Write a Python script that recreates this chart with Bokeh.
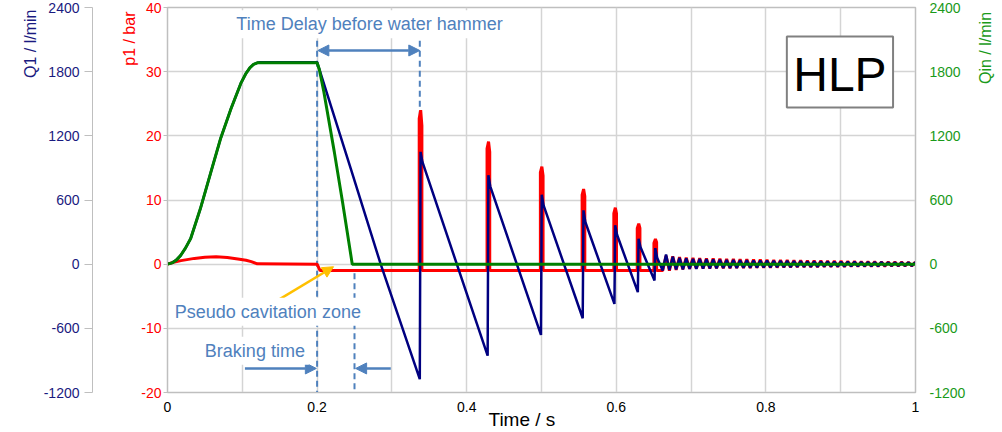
import math
from bokeh.plotting import figure
from bokeh.layouts import row
from bokeh.models import (Range1d, LinearAxis, FixedTicker, Label, Arrow,
                          NormalHead, Title)
from bokeh.core.properties import value
from bokeh.embed import file_html
from bokeh.resources import INLINE

FONT = "Liberation Sans"

# ---------------- data ----------------
# start-up ramp, shared by Q1 and Qin (l/min)
ramp_t = [0, 0.006, 0.012, 0.0174, 0.024, 0.031, 0.044, 0.058, 0.071, 0.085, 0.098,
          0.105, 0.11, 0.115, 0.12]
ramp_q = [0, 12, 40, 80, 150, 240, 520, 860, 1175, 1456, 1690, 1785, 1835, 1868, 1883]
brake_start = 0.2
brake_end = 0.25
q1_plateau = 1889
qin_brake_t = [0.2, 0.203, 0.209, 0.223, 0.234, 0.247]
qin_brake_q = [1883, 1820, 1612, 1050, 581, 0]
q1_brake_t = [0.2, 0.245, 0.285]
q1_brake_q = [q1_plateau, 893, 0]

# pressure p1 (bar)
p1_hump_t = [0, 0.008, 0.018, 0.036, 0.05, 0.065, 0.08, 0.094, 0.105, 0.112, 0.12]
p1_hump_p = [0, 0.3, 0.55, 0.9, 1.08, 1.15, 1.05, 0.8, 0.6, 0.4, 0.05]
p1_cav = -1.0
p1_drop_t = [0.2, 0.204]

# water hammer events
spike_t = [0.3373, 0.428, 0.4993, 0.5551, 0.5975, 0.6288, 0.6511]
p1_spike_rise = [22.7, 18.0, 14.3, 10.8, 7.9, 5.6, 3.3]
p1_spike_peak = [24.0, 19.1, 15.2, 11.7, 8.8, 6.3, 3.9]
p1_spike_fall = [21.6, 17.5, 13.8, 10.6, 7.9, 5.6, 3.4]
q1_trough = [-1075, -856, -662, -506, -372, -262, -153]
q1_peak = [1050, 831, 650, 503, 363, 237, 150]
q1_shoulder = [956, 728, 550, 394, 275, 160, 60]

# decaying oscillation after the last hammer
osc_t0 = 0.662
osc_period = 0.009
p1_osc_hi = [1.3, 1.2, 1.1, 1.0, 0.95, 0.92, 0.9, 0.88, 0.85, 0.82, 0.8, 0.78, 0.75,
             0.72, 0.7, 0.67, 0.65, 0.63, 0.61, 0.6, 0.58, 0.56, 0.54, 0.52, 0.5,
             0.49, 0.47, 0.45, 0.44, 0.42, 0.4, 0.39, 0.37, 0.36, 0.34, 0.33, 0.32, 0.3]
p1_osc_lo = [-1.0, -1.0, -0.9, -0.8, -0.72, -0.7, -0.68, -0.66, -0.65, -0.63, -0.62,
             -0.6, -0.59, -0.58, -0.56, -0.55, -0.53, -0.52, -0.5, -0.49, -0.47, -0.46,
             -0.44, -0.43, -0.42, -0.4, -0.39, -0.38, -0.37, -0.36, -0.35, -0.34,
             -0.33, -0.32, -0.31, -0.3, -0.3, -0.29]
q1_osc_hi = [90, 70, 60, 55, 50, 48, 46, 44, 42, 40, 38, 37, 36, 35, 34, 33, 32, 31,
             30, 29, 28, 27, 26, 25, 25, 24, 23, 22, 22, 21, 20, 20, 19, 18, 18, 17, 16, 16]
q1_osc_lo = [-60, -55, -50, -48, -45, -43, -42, -40, -38, -37, -36, -35, -34, -33, -32,
             -31, -30, -29, -28, -27, -26, -25, -25, -24, -23, -22, -22, -21, -20, -20,
             -19, -18, -18, -17, -16, -16, -15, -15]

# axes ticks and titles
x_ticks = [0, 0.2, 0.4, 0.6, 0.8, 1]
x_tick_labels = ["0", "0.2", "0.4", "0.6", "0.8", "1"]
x_grid = [0.1, 0.2, 0.3, 0.4, 0.5, 0.6, 0.7, 0.8, 0.9]
p_ticks = [-20, -10, 0, 10, 20, 30, 40]
p_tick_labels = ["-20", "-10", "0", "10", "20", "30", "40"]
q_ticks = [-1200, -600, 0, 600, 1200, 1800, 2400]
q_tick_labels = ["-1200", "-600", "0", "600", "1200", "1800", "2400"]
x_title = "Time / s"
p1_title = "p1 / bar"
q1_title = "Q1 / l/min"
qin_title = "Qin / l/min"

# ---------------- build series ----------------
qin_t = list(ramp_t) + [brake_start] + qin_brake_t[1:] + [1.0]
qin_q = list(ramp_q) + [ramp_q[-1]] + qin_brake_q[1:] + [0]

q1_t = list(ramp_t) + [0.124] + q1_brake_t
q1_q = list(ramp_q) + [q1_plateau] + q1_brake_q
for i, ts in enumerate(spike_t):
    q1_t += [ts, ts + 0.001, ts + 0.0035]
    q1_q += [q1_trough[i], q1_peak[i], q1_shoulder[i]]
for i, (hi, lo) in enumerate(zip(q1_osc_hi, q1_osc_lo)):
    t = osc_t0 + i * osc_period
    q1_t += [t, t + osc_period / 2]
    q1_q += [lo, hi]
q1_t.append(1.0)
q1_q.append(0)

p1_t = list(p1_hump_t) + [p1_drop_t[0], p1_drop_t[1]]
p1_p = list(p1_hump_p) + [0, p1_cav]
for i, ts in enumerate(spike_t):
    a, b = ts - 0.0008, ts + 0.0028
    p1_t += [a, a, ts + 0.0012, b, b]
    p1_p += [p1_cav, p1_spike_rise[i], p1_spike_peak[i], p1_spike_fall[i], p1_cav]
for i, (hi, lo) in enumerate(zip(p1_osc_hi, p1_osc_lo)):
    t = osc_t0 + i * osc_period
    p1_t += [t, t + osc_period / 2]
    p1_p += [lo, hi]
p1_t.append(1.0)
p1_p.append(0)

# ---------------- main figure ----------------
TITLE_W = 26   # narrow strip on the right that carries the Qin title
p = figure(width=1002 - TITLE_W, height=432, output_backend="svg", toolbar_location=None,
           x_range=Range1d(0, 1), y_range=Range1d(-20, 40),
           min_border_left=167, min_border_right=87 - TITLE_W, min_border_top=7,
           min_border_bottom=40, background_fill_color="white",
           border_fill_color="white")
p.extra_y_ranges = {"q": Range1d(-1200, 2400)}
p.outline_line_color = "#bfbfbf"
p.outline_line_width = 1.5

GRID = "#d4d4d4"
p.xgrid.ticker = FixedTicker(ticks=x_grid)
p.ygrid.ticker = FixedTicker(ticks=p_ticks)
for g in (p.xgrid[0], p.ygrid[0]):
    g.grid_line_color = GRID
    g.grid_line_width = 1.5

# x axis
xa = p.xaxis[0]
xa.ticker = FixedTicker(ticks=x_ticks)
xa.major_label_overrides = dict(zip(x_ticks, x_tick_labels))
xa.major_label_text_font = FONT
xa.major_label_text_font_size = "14px"
xa.major_label_text_color = "black"
xa.major_label_standoff = 9
xa.major_tick_out = 0
xa.major_tick_in = 0
xa.minor_tick_line_color = None
xa.axis_line_color = "#bfbfbf"

def style_y(ax, color, ticks, tick_labels, tick_out, lab_standoff):
    ax.ticker = FixedTicker(ticks=ticks)
    ax.major_label_overrides = dict(zip(ticks, tick_labels))
    ax.major_label_text_font = FONT
    ax.major_label_text_font_size = "14px"
    ax.major_label_text_color = color
    ax.major_label_standoff = lab_standoff
    ax.major_tick_out = tick_out
    ax.major_tick_in = 0
    ax.major_tick_line_color = "#bfbfbf"
    ax.minor_tick_line_color = None
    ax.axis_line_color = "#bfbfbf"

def side_title(text, color, size, align, standoff, offset=0):
    return Title(text=text, text_font=FONT, text_font_size=size,
                 text_font_style="normal", text_color=color, align=align,
                 standoff=standoff, offset=offset)

RED, NAVY, GREEN = "#ff0000", "#000080", "#008000"
GREEN_TXT = "#1a9a1a"
NAVY_TXT = "#1a1a80"

# left side, from the frame outward: p1 axis, p1 title, spacer, Q1 axis, Q1 title
style_y(p.yaxis[0], RED, p_ticks, p_tick_labels, 4, 2)
p.add_layout(side_title(p1_title, RED, "16px", "right", 2, 4), "left")

spacer = LinearAxis(y_range_name="q", ticker=FixedTicker(ticks=[600]),
                    axis_line_color=None, major_tick_line_color=None,
                    minor_tick_line_color=None, major_label_text_font_size="1px",
                    major_label_text_alpha=0, major_tick_out=25, major_tick_in=0,
                    major_label_standoff=0)
p.add_layout(spacer, "left")

q1_ax = LinearAxis(y_range_name="q")
style_y(q1_ax, NAVY_TXT, q_ticks, q_tick_labels, 8, 5)
p.add_layout(q1_ax, "left")
p.add_layout(side_title(q1_title, NAVY_TXT, "16px", "right", 4, 2), "left")

# right side
qin_ax = LinearAxis(y_range_name="q")
style_y(qin_ax, GREEN_TXT, q_ticks, q_tick_labels, 0, 14)
p.add_layout(qin_ax, "right")

# below
p.add_layout(side_title(x_title, "black", "19px", "left", -16, 321), "below")

# ---------------- dashed guides ----------------
BLUE_TXT = "#4f81bd"
dash_x0 = [brake_start, spike_t[0], brake_end]
dash_y0 = [34.8, 34.8, -1.4]
dash_y1 = [-21, 23.0, -21]
p.segment(x0=dash_x0, y0=dash_y0, x1=dash_x0, y1=dash_y1,
          line_color=BLUE_TXT, line_width=2, line_dash="6 4")

# ---------------- curves ----------------
p.line(p1_t, p1_p, line_color=RED, line_width=3)
p.line(q1_t, q1_q, y_range_name="q", line_color=NAVY, line_width=2.5)
p.line(qin_t, qin_q, y_range_name="q", line_color=GREEN, line_width=3)

# HLP box
p.quad(left=[0.828], right=[0.970], bottom=[24.4], top=[35.5],
       fill_color="white", line_color="#808080", line_width=2)
p.text(x=[0.899], y=[29.6], text=["HLP"], text_font=value(FONT),
       text_font_size="48px", text_align="center", text_baseline="middle",
       text_color="black")

# arrows
def head(color, size=11):
    return NormalHead(size=size, fill_color=color, line_color=color)

p.add_layout(Arrow(x_start=brake_start + 0.001, y_start=33.3, x_end=spike_t[0], y_end=33.3,
                   start=head(BLUE_TXT), end=head(BLUE_TXT),
                   line_color=BLUE_TXT, line_width=2.5))
p.add_layout(Arrow(x_start=0.1035, y_start=-16.25, x_end=0.199, y_end=-16.25,
                   end=head(BLUE_TXT), line_color=BLUE_TXT, line_width=2.5))
p.add_layout(Arrow(x_start=0.2985, y_start=-16.25, x_end=0.2515, y_end=-16.25,
                   end=head(BLUE_TXT), line_color=BLUE_TXT, line_width=2.5))
p.add_layout(Arrow(x_start=0.135, y_start=-6.5, x_end=0.222, y_end=-0.4,
                   end=head("#ffc000", 11), line_color="#ffc000", line_width=2.5))

def label(x, y, text):
    lb = Label(x=x, y=y, text=text, text_font=FONT, text_font_size="18px",
               text_color=BLUE_TXT, text_align="left", text_baseline="middle",
               background_fill_color="white")
    if hasattr(lb, "padding"):
        lb.padding = 4
    p.add_layout(lb)

label(0.0867, 37.4, "Time Delay before water hammer")
label(0.0044, -7.4, "Pseudo cavitation zone")
label(0.0446, -13.5, "Braking time")

# ---------------- strip carrying the right-hand axis title ----------------
p2 = figure(width=TITLE_W, height=432, output_backend="svg", toolbar_location=None,
            x_range=Range1d(0, TITLE_W), y_range=Range1d(0, 432),
            x_axis_type=None, y_axis_type=None, min_border=0,
            outline_line_color=None, background_fill_color="white",
            border_fill_color="white")
p2.grid.visible = False
p2.add_layout(Label(x=9, y=427, text=qin_title, text_font=FONT, text_font_size="16px",
                    text_color=GREEN_TXT, angle=math.pi / 2, text_align="right",
                    text_baseline="middle"))

layout = row(p, p2, spacing=0)
open("out.html", "w").write(file_html(layout, INLINE))
